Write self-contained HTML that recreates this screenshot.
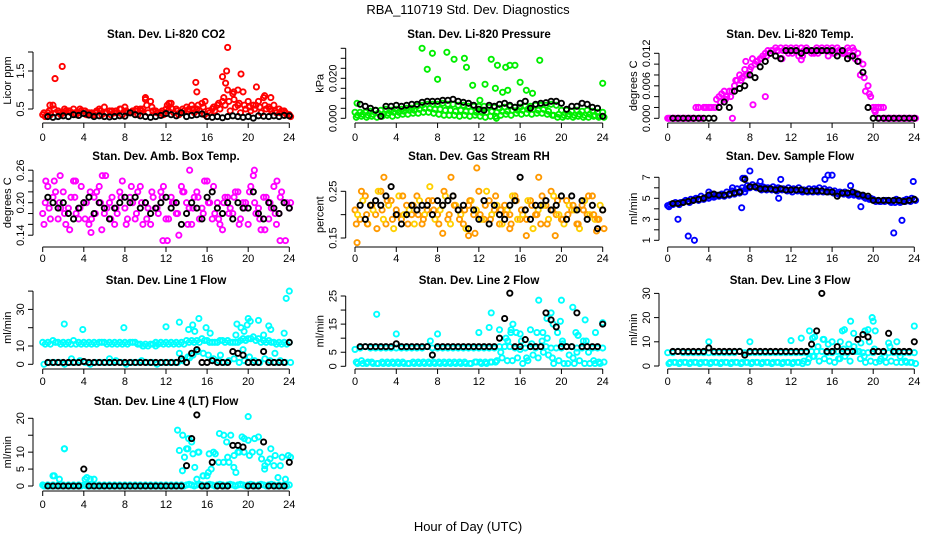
<!DOCTYPE html>
<html><head><meta charset="utf-8"><style>
html,body{margin:0;padding:0;background:#fff}
svg{display:block;font-family:"Liberation Sans",sans-serif}
</style></head><body>
<svg id="chart" width="936" height="540" viewBox="0 0 936 540" xmlns="http://www.w3.org/2000/svg">
<rect width="936" height="540" fill="#fff"/>
<text x="468" y="14" font-size="13" text-anchor="middle">RBA_110719  Std. Dev. Diagnostics</text>
<text x="468" y="531" font-size="13" text-anchor="middle">Hour of Day (UTC)</text>
</svg>
<script>
// ---- data ----
const xTicks=[0,4,8,12,16,20,24];
const co2Main=[0.35,0.4,0.6,0.45,0.4,0.45,0.5,0.4,0.45,0.4,0.35,0.5,0.55,0.45,0.4,0.5,0.55,0.4,0.45,0.5,0.75,0.7,0.45,0.4,0.5,0.65,0.5,0.4,0.55,0.6,0.5,0.65,0.3,0.5,0.6,0.7,1.0,0.9,0.6,0.95,0.7,0.6,0.7,0.8,0.55,0.6,0.5,0.45,0.35];
const co2Alt=[0.3,0.35,0.4,0.35,0.45,0.4,0.35,0.45,0.35,0.4,0.45,0.35,0.4,0.45,0.4,0.35,0.4,0.45,0.35,0.5,0.4,0.45,0.4,0.35,0.45,0.4,0.35,0.45,0.5,0.4,0.45,0.35,0.4,0.45,0.5,0.6,0.45,0.55,0.4,0.5,0.45,0.6,0.4,0.5,0.45,0.4,0.45,0.35];
const co2Extra=[0.4,0.45,0.5,0.4,0.5,0.45,0.4,0.5,0.45,0.35,0.4,0.45,0.4,0.35,0.45,0.5,0.45,0.4,0.5,0.45,0.6,0.55,0.4,0.45,0.6,0.5,0.45,0.5,0.45,0.5,0.6,0.55,0.45,0.55,0.65,0.8,0.7,0.75,0.65,0.6,0.55,0.5,0.55,0.6,0.5,0.45,0.4,0.4,0.3];
const co2Out=[[1.2,1.3],[1.9,1.62],[14.9,1.2],[15,0.95],[17.5,1.35],[17.9,1.5],[18,2.12],[17.8,1.18],[19.3,1.42],[20.8,1.08],[18.6,0.95],[19,1.0],[21.6,0.85],[10,0.8],[12.3,0.65],[15.8,0.7],[22.2,0.8],[0.7,0.6]];
const co2Ref=[0.3,0.28,0.3,0.32,0.3,0.35,0.33,0.38,0.34,0.3,0.32,0.3,0.29,0.3,0.32,0.31,0.4,0.35,0.32,0.3,0.28,0.3,0.33,0.38,0.35,0.32,0.4,0.3,0.33,0.35,0.37,0.3,0.28,0.3,0.27,0.3,0.32,0.3,0.28,0.3,0.26,0.32,0.31,0.3,0.32,0.3,0.33,0.32];

const presMain=[.003,.003,.003,.0035,.004,.004,.0045,.004,.0045,.0045,.005,.005,.006,.0065,.007,.007,.007,.0075,.007,.007,.0065,.0065,.006,.006,.006,.006,.0055,.0055,.005,.0055,.006,.0055,.0055,.006,.006,.0065,.0065,.0065,.007,.0065,.004,.004,.0035,.004,.0035,.004,.0035,.003,.003];
const presAlt=[.0015,.002,.0015,.002,.0025,.002,.0025,.003,.003,.0035,.004,.004,.0045,.005,.005,.0045,.0045,.004,.004,.0035,.004,.0035,.0035,.003,.003,.003,.0035,.003,.0035,.0035,.004,.004,.004,.0045,.0045,.004,.0045,.0035,.0015,.002,.0015,.002,.0015,.002,.0015,.002,.0015,.001];
const presExtra=[.0005,.001,.0005,.001,.0005,.001,.0015,.001,.0015,.002,.002,.0025,.0025,.003,.003,.0025,.002,.0015,.0015,.0015,.001,.0015,.001,.0015,.001,.0005,.001,.001,.0015,.002,.0015,.0025,.002,.0025,.002,.0025,.0025,.002,.0015,.0005,.0005,.001,.0005,.001,.0005,.0005,.001,.0005,.0005];
const presOut=[[6.5,.035],[7.5,.0325],[7,.0245],[8,.0195],[8.9,.033],[9.6,.0295],[10.6,.030],[10.8,.0255],[11.4,.0165],[12.1,.009],[12.6,.017],[13.2,.0295],[13.6,.015],[13.8,.0265],[14.3,.013],[14.6,.0255],[14.8,.014],[15,.0265],[15.5,.0265],[16,.018],[16.6,.014],[17.2,.0125],[17.9,.029],[24,.0175],[0.2,.0075],[13.7,0]];
const presRef=[.007,.006,.005,.004,.001,.006,.006,.0065,.006,.0065,.007,.007,.008,.0085,.0085,.0085,.009,.009,.0095,.0085,.008,.0075,.0065,.0045,.004,.0065,.006,.007,.0075,.0065,.0055,.0075,.0085,.005,.007,.0075,.0078,.0085,.0085,.0075,.0045,.006,.006,.0075,.007,.0055,.005,.001];

const tempMain=[0,0,0,0,0,0,0.002,0.002,0.002,0.002,0.004,0.005,0.005,0.006,0.008,0.009,0.009,0.01,0.011,0.012,0.012,0.013,0.013,0.013,0.013,0.013,0.013,0.013,0.012,0.013,0.013,0.013,0.013,0.013,0.012,0.013,0.013,0.012,0.01,0.006,0.002,0.002,0,0,0,0,0,0,0];
const tempAlt=[0,0,0,0,0,0.002,0,0.002,0.002,0.0035,0.0045,0.004,0.005,0.007,0.0075,0.008,0.011,0.0105,0.0115,0.0125,0.0125,0.0125,0.0125,0.012,0.0125,0.0115,0.0125,0.0125,0.012,0.0125,0.0125,0.0125,0.012,0.0125,0.012,0.0115,0.011,0.008,0.005,0.004,0.002,0.002,0,0,0,0,0,0];
const tempExtra=[0,0,0,0,0,0,0,0.002,0.002,0.002,0.003,0.0035,0.004,0.007,0.007,0.008,0.0095,0.0105,0.011,0.0115,0.0125,0.0125,0.011,0.0125,0.012,0.0125,0.0115,0.0125,0.0125,0.012,0.0125,0.0115,0.012,0.0125,0.012,0.0125,0.0125,0.0105,0.0075,0.0045,0.0015,0,0,0,0,0,0,0,0];
const tempOut=[[3,0.002],[6.3,0],[8.3,0.0025],[9.5,0.004],[20.5,0.002],[21,0.002],[20.2,0.0012],[7.6,0.0105],[13,0.0108]];
const tempRef=[0,0,0,0,0,0,0,0,0,0.002,0.003,0.002,0.005,0.0055,0.006,0.008,0.0075,0.0095,0.0105,0.012,0.0115,0.011,0.0125,0.0125,0.0125,0.012,0.0125,0.0125,0.0125,0.0125,0.0125,0.0125,0.0115,0.0125,0.011,0.0115,0.0105,0.0085,0.002,0,0,0,0,0,0,0,0,0];

const boxMain=[.18,.23,.21,.17,.22,.19,.24,.17,.2,.16,.21,.23,.18,.2,.16,.22,.19,.21,.17,.23,.2,.16,.19,.22,.17,.21,.18,.23,.2,.16,.22,.19,.24,.17,.2,.15,.21,.18,.22,.2,.16,.25,.19,.21,.17,.23,.18,.2,.19];
const boxAlt=[.2,.17,.22,.19,.16,.21,.18,.23,.2,.17,.22,.15,.19,.21,.18,.24,.17,.2,.22,.16,.19,.21,.18,.23,.17,.2,.14,.22,.19,.21,.17,.24,.2,.18,.16,.21,.19,.22,.17,.2,.23,.18,.15,.21,.19,.16,.22,.2];
const boxExtra=[.16,.19,.24,.2,.18,.15,.21,.19,.17,.22,.18,.2,.25,.17,.19,.21,.16,.23,.18,.2,.17,.22,.19,.21,.13,.2,.18,.22,.16,.19,.21,.18,.2,.23,.17,.2,.18,.21,.16,.19,.22,.2,.17,.15,.2,.18,.21,.13,.2];
const boxOut=[[0.3,.24],[1.7,.25],[3.2,.24],[5.8,.25],[14.3,.26],[20.6,.26],[22.8,.24],[23.1,.13],[11.7,.13],[4.7,.145]];
const boxRef=[.21,.2,.19,.2,.18,.17,.19,.2,.21,.18,.2,.19,.17,.19,.2,.21,.2,.21,.19,.2,.18,.19,.2,.21,.19,.2,.16,.18,.2,.19,.17,.21,.22,.19,.18,.2,.17,.2,.19,.19,.22,.18,.17,.2,.19,.18,.2,.19];

const rhMain=[.21,.19,.24,.22,.2,.25,.18,.23,.21,.19,.22,.2,.24,.18,.21,.23,.2,.22,.19,.24,.21,.18,.22,.2,.25,.19,.23,.21,.18,.22,.2,.24,.19,.21,.23,.2,.18,.22,.25,.2,.19,.23,.21,.18,.22,.2,.24,.19,.21];
const rhAlt=[.2,.23,.18,.21,.25,.19,.22,.17,.24,.2,.21,.18,.23,.2,.26,.19,.21,.24,.18,.22,.2,.17,.23,.21,.19,.25,.2,.22,.18,.21,.24,.19,.2,.23,.17,.21,.22,.19,.24,.2,.18,.22,.21,.17,.23,.2,.19,.22];
const rhExtra=[.18,.25,.2,.22,.17,.21,.23,.19,.2,.24,.18,.22,.2,.19,.23,.21,.18,.25,.2,.22,.19,.21,.23,.16,.2,.22,.19,.24,.21,.2,.18,.23,.21,.19,.22,.2,.24,.18,.21,.23,.19,.2,.22,.18,.21,.24,.2,.19,.17];
const rhOut=[[0.2,.14],[2.8,.28],[1.2,.18],[8.5,.16],[9.3,.28],[11.8,.3],[16.6,.155],[17.8,.28],[19.4,.155],[11,.155],[23.4,.165],[15,.17]];
const rhRef=[.22,.19,.22,.23,.22,.24,.26,.2,.18,.2,.22,.21,.22,.22,.2,.23,.22,.23,.24,.21,.22,.17,.21,.19,.23,.18,.22,.2,.19,.22,.23,.28,.21,.19,.22,.22,.23,.21,.22,.24,.19,.24,.21,.23,.19,.22,.17,.21];

const flowMain=[4.3,4.4,4.5,4.6,4.7,4.8,4.8,4.9,5.0,5.1,5.2,5.2,5.3,5.4,5.5,5.6,6.0,6.1,6.0,6.0,5.9,5.9,5.9,5.8,5.8,5.8,5.7,5.7,5.7,5.8,5.7,5.7,5.6,5.5,5.5,5.5,5.4,5.3,5.2,5.0,4.9,4.8,4.8,4.8,4.8,4.7,4.8,4.8,4.9];
const flowAlt=[4.4,4.6,4.6,4.8,4.9,5.0,5.2,5.1,5.4,5.3,5.4,5.6,5.7,5.9,6.0,6.2,6.3,6.2,6.1,6.0,6.1,6.0,5.9,6.0,5.9,6.0,5.8,5.9,5.9,6.0,5.9,5.8,5.7,5.6,5.6,5.4,5.5,5.3,5.0,5.0,4.7,4.7,4.8,4.6,4.9,4.7,4.9,5.0];
const flowExtra=[4.2,4.5,4.4,4.7,4.6,4.9,4.9,5.0,5.2,5.2,5.3,5.3,5.4,5.6,5.7,5.9,6.1,6.0,5.8,5.8,5.8,5.7,5.8,5.7,5.6,5.7,5.6,5.6,5.6,5.6,5.6,5.6,5.5,5.4,5.4,5.3,5.3,5.2,5.1,4.9,4.8,4.7,4.7,4.7,4.6,4.6,4.7,4.7,4.8];
const flowOut=[[1,3],[2,1.4],[2.6,1],[7.2,4.1],[7.3,6.9],[7.5,6.9],[8,7.6],[9,6.6],[10.8,5],[11,6.8],[15.3,6.8],[15.6,7.2],[16,7.2],[17.8,6.2],[18.8,4.2],[22,1.7],[22.8,2.9],[23.9,6.6],[4,5.6],[6.3,6]];
const flowRef=[4.5,4.5,4.6,4.7,4.8,4.9,5.0,5.3,5.4,5.3,5.3,5.4,5.5,5.6,6.8,6.1,6.1,5.9,5.9,5.9,5.8,5.9,5.8,5.8,5.8,5.8,5.7,5.7,5.7,5.7,5.6,5.6,5.2,5.5,5.5,5.6,5.4,5.3,5.2,4.8,4.8,4.8,4.8,4.8,4.8,4.7,4.8,4.9];

const l1Main=[12,12,13,12,12,12,13,12,12,12,12,12,12,12,12,12,12,12,12,11,11,11,12,12,12,12,12,12,13,13,13,14,13,12,12,13,13,12,12,14,14,15,14,13,13,12,12,12,12];
const l1Alt=[11,11,12,11,11,11,11,11,11,11,11,12,11,11,11,11,11,12,11,10,10,11,11,11,11,11,11,11,12,12,12,13,12,12,13,12,12,12,13,13,14,13,12,12,12,11,11,11];
const l1Extra=[0,1,1,1,0,1,1,2,1,0,1,1,1,1,2,1,0,1,1,2,1,1,0,1,1,1,1,2,4,5,7,6,5,3,2,1,2,3,1,2,4,2,1,3,2,1,2,1,1];
const l1Out=[[2.1,22],[3.9,19],[7.9,20],[12,20.5],[13.3,23],[14.2,19],[14.6,21.5],[14.8,18],[15.2,25],[15.9,20],[16.3,17],[18.8,16],[18.9,22],[19.3,20],[19.6,18],[19.9,21.5],[20,25],[20.2,23.5],[21,24],[21.5,16],[22,21],[22.2,19],[23.5,17],[23.7,36],[24,40],[13.3,6],[14.3,3.5],[17.3,5],[19.5,8],[22.6,6],[2.8,3],[6.5,3],[9.8,10],[11,10]];
const l1Ref=[1,1,1,1,1,1,1,1.5,1,1,1,1,1,1,1,1,1,1,1,1,1,1,1,1,1,1,3,1,6,8,1,1,2,1,1,1,7,6,5,1,1,1,7,1,1,1,1,12];

const l2Main=[6,6.5,7,6.5,6.5,6.5,6.5,6.5,6.5,6.5,6.5,6.5,6.5,6.5,7,6.5,6.5,6.5,6.5,6.5,6.5,6.5,6.5,6.5,6.5,6.5,6.5,6.5,7,7,7,6.5,6,6.5,7,6.5,7,7,6.5,6.5,6.5,7,7,6.5,6.5,7,6.5,6.5,6.5];
const l2Alt=[1,1,1.5,1,1,1,1,1,1,1,1,1,1,1,1,1,1,1,1,1,1,1,1,1.5,1,1,1.5,2,3,2,2,3,1,2,4,3,5,4,1,2,1,4,1,2,1,1,1,1];
const l2Extra=[1.5,2,1,1.5,1,1.5,1.5,1.5,1.5,1.5,1,1.5,1.5,1.5,1.5,1.5,1.5,1.5,1.5,1.5,1.5,1.5,1,1.5,1.5,1.5,1.5,1.5,5,10,13,12,9,3,8,12,9,10,3,12,8,1,3,11,9,5,2,1.5,1.5];
const l2Out=[[2.1,18.5],[4,11.5],[8,11.5],[12,12],[13.2,19],[13,13.8],[14,13],[14.8,9],[15.3,15],[15.1,12],[16,11.5],[17,13],[17.8,23.5],[18.2,12],[18.6,17],[19,19],[19.2,15],[19.9,16],[20,23.5],[20.1,9],[21.1,21],[21.4,12],[21.6,11],[22.3,16.5],[22.4,9],[23.3,12],[24,15.5],[7.3,9],[21.5,5]];
const l2Ref=[7,7,7,7,7,7,7,8,7,7,7,7,7,7,4,7,7,7,7,7,7,7,7,7,7,7,7,10,17,26,7,7,9.5,7,7,7,19,16.5,14,7,7,7,19,7,7,7,7,15];

const l3Main=[5.5,5.5,6,5.5,5.5,5.5,5.5,5.5,5.5,5.5,5.5,5.5,5.5,5.5,6,5.5,5.5,5.5,5.5,5.5,5.5,5.5,5.5,5.5,5.5,5.5,5.5,5.5,6,6,6,5.5,5.5,6,5.5,5.5,6,6,5.5,5.5,5.5,6,5.5,5.5,5.5,5.5,5.5,5.5,5.5];
const l3Alt=[1.5,1.5,1.5,1.5,1.5,1.5,1.5,1.5,1.5,1.5,1.5,1.5,1.5,1.5,1.5,1.5,1.5,1.5,1.5,1.5,1.5,1.5,1.5,1.5,1.5,1.5,2,3,4,2,3,2,1.5,3,4,2,6,3,1.5,2,1.5,3,1.5,2,1.5,1.5,1.5,1.5];
const l3Extra=[1,1.5,1,1.5,1,1.5,1,1.5,1,1.5,1,1.5,1,1.5,1,1.5,1,1.5,1,1.5,1,1.5,1,1.5,1,1.5,1,1.5,4,8,11,9,6,3,7,9,8,6,4,10,7,2,4,8,6,4,2,1.5,1];
const l3Out=[[4,10],[8,10],[12,10.5],[13,11.5],[13.8,14.5],[14.1,11.5],[14.3,12],[15.2,11],[16,10],[17,14.5],[17.2,15],[17.8,18.5],[18.1,13.5],[18.8,9.5],[19.2,14.5],[19.9,20],[20,18.5],[20.2,14.5],[21.5,9.5],[22.3,10],[24,16.5],[16.8,10],[19.5,15]];
const l3Ref=[6,6,6,6,6,6,6,7.5,6,6,6,6,6,6,4.5,6,6,6,6,6,6,6,6,6,6,6,6,9,14.5,30,6,6,8,6,6,6,11,13,12,6,6,6,13.5,6,6,6,6,10];

const l4Main=[0.3,0.3,0.3,0.3,0.3,0.3,0.3,0.3,0.3,0.3,0.3,0.3,0.3,0.3,0.3,0.3,0.3,0.3,0.3,0.3,0.3,0.3,0.3,0.3,0.3,0.3,0.3,0.3,0.3,0.3,0.3,0.3,0.3,0.3,0.3,0.3,0.3,0.3,0.3,0.3,0.3,0.3,0.3,0.3,0.3,0.3,0.3,0.3,0.3];
const l4Alt=[0,0,0,0,0,0,0,0,0,0,0,0,0,0,0,0,0,0,0,0,0,0,0,0,0,0,0,0,0.5,0,0.5,0,0.5,0,0.5,0,0.5,0,0.5,0,0.5,0,0.5,0,0.5,0,0,0];
const l4Extra=[0,0,3,2,11,0,0,0,2,2,0,0,0,0,0,0,0,0,0,0,0,0,0,0,0,0,16.5,15,11,9.5,10,3,4,10,7,15,7,9,10,14,9,14,10,6,8,9,6,2,8.5];
const l4Out=[[13.3,10.5],[13.6,4.5],[13.8,8.5],[14,11],[14.2,14],[14.5,13],[14.8,5.5],[15,2],[15.2,10],[15.6,3],[16,3],[16.2,9.5],[16.4,5],[16.8,9.5],[17.2,15.5],[17.6,7],[17.9,13],[18,8.5],[18.3,15],[18.6,5.5],[18.8,4],[19,10],[19.4,14.5],[19.6,10],[20,20.5],[20,13.5],[20.4,10],[21,14.5],[21.3,8],[21.6,5],[21.9,7],[22.2,11],[22.5,6],[22.9,2.5],[23.3,8.5],[23.9,9],[2.1,11],[1,3],[4.3,2.5],[5,2]];
const l4Ref=[0,0,0,0,0,0,0,5,0,0,0,0,0,0,0,0,0,0,0,0,0,0,0,0,0,0,0,6,14,21,0,0,7,0,0,0,12,12,11.5,0,0,0,13,0,0,0,0,7];

// ---- panels ----
const panels=[
 {name:'co2',title:'Stan. Dev. Li-820 CO2',ylab:'Licor ppm',col:0,row:0,color:'#ff0000',color2:'#ff0000',s:[co2Main,co2Alt,co2Extra],out:co2Out,ref:co2Ref,
  y0:0.5,py0:109,pyPer:38,ticks:[0.5,1,1.5,2],labels:['0.5','','1.5','']},
 {name:'pressure',title:'Stan. Dev. Li-820 Pressure',ylab:'kPa',col:1,row:0,color:'#00ee00',color2:'#00ee00',s:[presMain,presAlt,presExtra],out:presOut,ref:presRef,
  y0:0,py0:118.3,pyPer:2000,ticks:[0,.005,.01,.015,.02,.025,.03,.035],labels:['0.000','','','','0.020','','','']},
 {name:'temp',title:'Stan. Dev. Li-820 Temp.',ylab:'degrees C',col:2,row:0,color:'#ff00ff',color2:'#ff00ff',s:[tempMain,tempAlt,tempExtra],out:tempOut,ref:tempRef,
  y0:0,py0:118.3,pyPer:5416.7,ticks:[0,.002,.004,.006,.008,.01,.012],labels:['0.000','','','0.006','','','0.012']},
 {name:'box-temp',title:'Stan. Dev. Amb. Box Temp.',ylab:'degrees C',col:0,row:1,color:'#ff00ff',color2:'#ff00ff',s:[boxMain,boxAlt,boxExtra],out:boxOut,ref:boxRef,
  y0:0.2,py0:202.7,pyPer:541.7,ticks:[.14,.16,.18,.2,.22,.24,.26],labels:['0.14','','','0.20','','','0.26']},
 {name:'rh',title:'Stan. Dev. Gas Stream RH',ylab:'percent',col:1,row:1,color:'#ff9900',color2:'#ffd000',s:[rhMain,rhAlt,rhExtra],out:rhOut,ref:rhRef,
  y0:0.15,py0:238,pyPer:467,ticks:[.15,.2,.25],labels:['0.15','','0.25']},
 {name:'sample-flow',title:'Stan. Dev. Sample Flow',ylab:'ml/min',col:2,row:1,color:'#0000ff',color2:'#0000ff',s:[flowMain,flowAlt,flowExtra],out:flowOut,ref:flowRef,
  y0:1,py0:240.3,pyPer:10.5,ticks:[1,2,3,4,5,6,7],labels:['1','','3','','5','','7']},
 {name:'line1',title:'Stan. Dev. Line 1 Flow',ylab:'ml/min',col:0,row:2,color:'#00ffff',color2:'#00ffff',s:[l1Main,l1Alt,l1Extra],out:l1Out,ref:l1Ref,
  y0:0,py0:364.3,pyPer:1.83,ticks:[0,10,20,30,40],labels:['0','10','','30','']},
 {name:'line2',title:'Stan. Dev. Line 2 Flow',ylab:'ml/min',col:1,row:2,color:'#00ffff',color2:'#00ffff',s:[l2Main,l2Alt,l2Extra],out:l2Out,ref:l2Ref,
  y0:0,py0:366.3,pyPer:2.812,ticks:[0,5,10,15,20,25],labels:['0','5','','15','','25']},
 {name:'line3',title:'Stan. Dev. Line 3 Flow',ylab:'ml/min',col:2,row:2,color:'#00ffff',color2:'#00ffff',s:[l3Main,l3Alt,l3Extra],out:l3Out,ref:l3Ref,
  y0:0,py0:366,pyPer:2.42,ticks:[0,10,20,30],labels:['0','10','20','30']},
 {name:'line4',title:'Stan. Dev. Line 4 (LT) Flow',ylab:'ml/min',col:0,row:3,color:'#00ffff',color2:'#00ffff',s:[l4Main,l4Alt,l4Extra],out:l4Out,ref:l4Ref,
  y0:0,py0:486,pyPer:3.385,ticks:[0,5,10,15,20],labels:['0','5','10','','20']}
];
const colGeom=[{x0:42.7,x24:289.3,ax:33,tc:166},{x0:355,x24:602.7,ax:345.7,tc:479},{x0:667.7,x24:914.3,ax:659,tc:790}];
const rowGeom=[{axY:123,lab:141,title:38},{axY:247,lab:262,title:160},{axY:369,lab:385,title:284},{axY:491,lab:508,title:405}];

const svg=document.getElementById('chart');
const NS='http://www.w3.org/2000/svg';
function mk(tag,attrs,parent){const e=document.createElementNS(NS,tag);for(const k in attrs)e.setAttribute(k,attrs[k]);(parent||svg).appendChild(e);return e;}

panels.forEach(p=>{
  const c=colGeom[p.col], r=rowGeom[p.row];
  const xS=h=>c.x0+(h/24)*(c.x24-c.x0);
  const yS=v=>p.py0-(v-p.y0)*p.pyPer;
  const g=mk('g',{});
  
  
  const t=mk('text',{x:c.tc,y:r.title,'font-size':11.5,'font-weight':'bold','text-anchor':'middle'},g);
  t.textContent=p.title;
  
  
  const xa=mk('g',{stroke:'#000','stroke-width':1},g);
  
  
  mk('line',{x1:xS(0),x2:xS(24),y1:r.axY,y2:r.axY},xa);
  xTicks.forEach(h=>{
    mk('line',{x1:xS(h),x2:xS(h),y1:r.axY,y2:r.axY+5},xa);
    const tl=mk('text',{x:xS(h),y:r.lab,'font-size':11,'text-anchor':'middle',stroke:'none',fill:'#000'},xa);
    tl.textContent=h;
  });
  const ya=mk('g',{stroke:'#000','stroke-width':1},g);
  
  
  const tk=p.ticks;
  mk('line',{x1:c.ax,x2:c.ax,y1:yS(tk[0]),y2:yS(tk[tk.length-1])},ya);
  tk.forEach((v,i)=>{
    const y=yS(v);
    mk('line',{x1:c.ax-5,x2:c.ax,y1:y,y2:y},ya);
    if(p.labels[i]){
      const tl=mk('text',{x:0,y:0,'font-size':11,'text-anchor':'middle',stroke:'none',fill:'#000',transform:`translate(${c.ax-9},${y}) rotate(-90)`},ya);
      tl.textContent=p.labels[i];
    }
  });
  const yt=mk('text',{x:0,y:0,'font-size':11,'text-anchor':'middle',transform:`translate(${c.ax-22},${(yS(tk[0])+yS(tk[tk.length-1]))/2}) rotate(-90)`},g);
  yt.textContent=p.ylab;
  
  
  const pts=mk('g',{fill:'none','stroke-width':1.9},g);
  
  
  const offs=[0,0.25,0.125];
  p.s.forEach((arr,si)=>{
    arr.forEach((v,i)=>{
      const e=mk('circle',{cx:xS(offs[si]+i*0.5),cy:yS(v),r:2.6,stroke:si===1?p.color2:p.color},pts);
      
      
    });
  });
  p.out.forEach(d=>{
    const e=mk('circle',{cx:xS(d[0]),cy:yS(d[1]),r:2.6,stroke:p.color},pts);
    
    
  });
  p.ref.forEach((v,i)=>{
    const e=mk('circle',{cx:xS(0.5+i*0.5),cy:yS(v),r:2.6,stroke:'#000'},pts);
    
    
  });
});
</script>
</body></html>
